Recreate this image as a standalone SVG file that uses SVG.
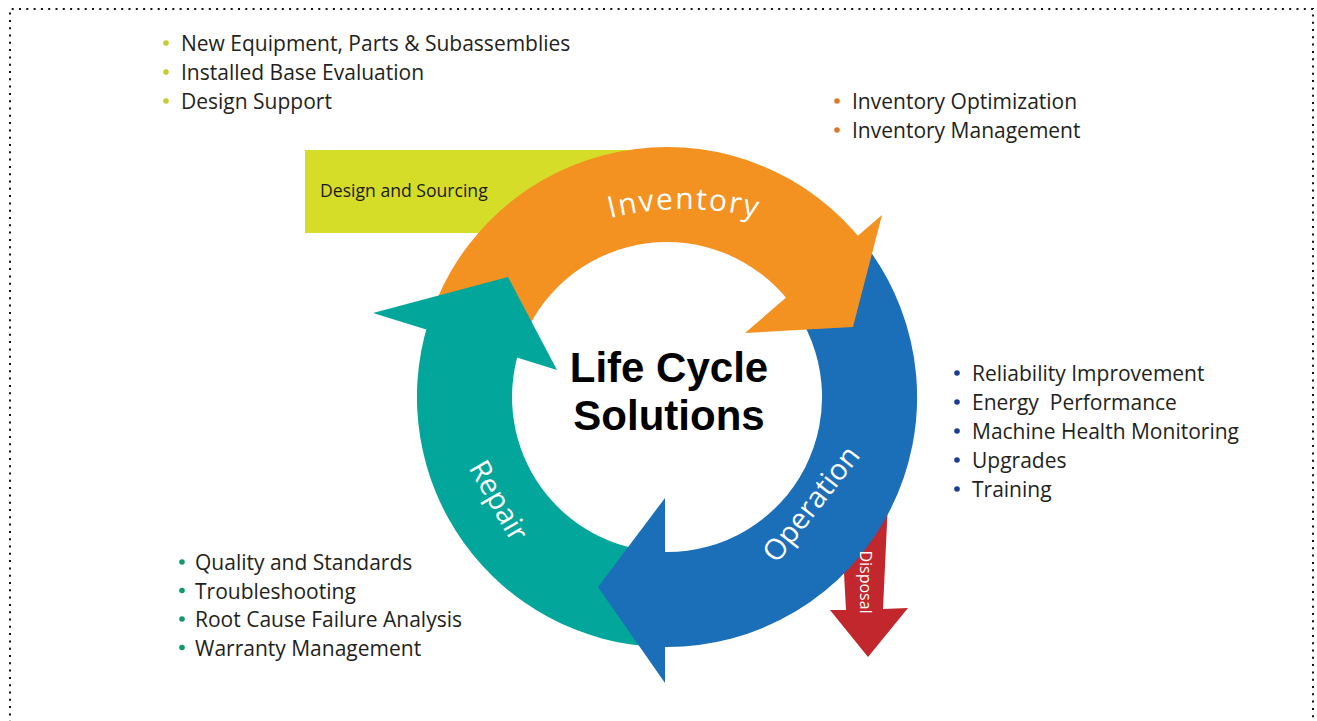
<svg xmlns="http://www.w3.org/2000/svg" width="1317" height="721" viewBox="0 0 1317 721">
<style>
.li{font-family:"Open Sans","Liberation Sans",sans-serif;font-size:21px;fill:#231f20}
.band{font-family:"Open Sans","Liberation Sans",sans-serif;fill:#ffffff}
.ctr{font-family:"Liberation Sans",Arial,sans-serif;font-size:42px;font-weight:bold;fill:#000000;text-anchor:middle}
</style>
<defs>
<path id="invPath" d="M533,249.5 A302,302 0 0 1 835,249.5"/>
</defs>
<rect width="1317" height="721" fill="#ffffff"/>
<path d="M10,730 V9 H1313 V730" fill="none" stroke="#111" stroke-width="2" stroke-dasharray="2 5.3"/>

<g id="design-sourcing">
<rect x="305" y="150" width="340" height="83" fill="#d6dd28"/>
<text x="320" y="197" font-family="'Open Sans','Liberation Sans',sans-serif" font-size="17.6" fill="#1a1a1a">Design and Sourcing</text>
</g>

<g id="connectors">
<g id="disposal">
<polygon points="839,480 889,480 883,609 908,608 868,657 830,610 846,610" fill="#c1272d"/>
</g>
</g>

<g id="ring-bands">
<path id="teal-band" d="M658.3,646.9 A250,250 0 0 1 427.9,323.9 L518.8,351.7 A155,155 0 0 0 661.6,551.9 Z" fill="#03a69b"/>
<path id="orange-band" d="M436.9,299.3 A250,250 0 0 1 864,243.1 L789.1,301.6 A155,155 0 0 0 524.3,336.4 Z" fill="#f39121"/>
<path id="blue-band" d="M866.7,246.5 A250,250 0 0 1 662.6,647 L664.3,552 A155,155 0 0 0 790.8,303.7 Z" fill="#1b6eb8"/>
</g>

<g id="repair">
<polygon points="373,313 508,277 557,370" fill="#03a69b"/>
<text class="band" font-size="29" text-anchor="middle" transform="translate(490,505.5) rotate(60)">Repair</text>
</g>
<g id="inventory">
<polygon points="745,333 882,215 853,327" fill="#f39121"/>
<text class="band" font-size="30" letter-spacing="1.8"><textPath href="#invPath" startOffset="50%" text-anchor="middle">Inventory</textPath></text>
</g>
<g id="operation">
<polygon points="665,498 665,683 598,587" fill="#1b6eb8"/>
<text class="band" font-size="29" text-anchor="middle" transform="translate(819,510) rotate(-52)">Operation</text>
</g>
<g id="disposal-label">
<text class="band" font-size="16" text-anchor="middle" transform="translate(860,582) rotate(90)">Disposal</text>
</g>

<g id="center-title">
<text class="ctr" x="669" y="382">Life Cycle</text>
<text class="ctr" x="669" y="430">Solutions</text>
</g>

<g id="list-design">
<circle cx="166" cy="43" r="2.8" fill="#c6cc2f"/>
<circle cx="166" cy="72" r="2.8" fill="#c6cc2f"/>
<circle cx="166" cy="101" r="2.8" fill="#c6cc2f"/>
<text class="li" x="181" y="51">New Equipment, Parts &amp; Subassemblies</text>
<text class="li" x="181" y="80">Installed Base Evaluation</text>
<text class="li" x="181" y="109">Design Support</text>
</g>

<g id="list-inventory">
<circle cx="837" cy="101" r="2.8" fill="#d9792b"/>
<circle cx="837" cy="130" r="2.8" fill="#d9792b"/>
<text class="li" x="852" y="109">Inventory Optimization</text>
<text class="li" x="852" y="138">Inventory Management</text>
</g>

<g id="list-operation">
<circle cx="957" cy="373" r="2.8" fill="#1d3d94"/>
<circle cx="957" cy="402" r="2.8" fill="#1d3d94"/>
<circle cx="957" cy="431" r="2.8" fill="#1d3d94"/>
<circle cx="957" cy="460" r="2.8" fill="#1d3d94"/>
<circle cx="957" cy="489" r="2.8" fill="#1d3d94"/>
<text class="li" x="972" y="381">Reliability Improvement</text>
<text class="li" x="972" y="410" xml:space="preserve">Energy  Performance</text>
<text class="li" x="972" y="439">Machine Health Monitoring</text>
<text class="li" x="972" y="468">Upgrades</text>
<text class="li" x="972" y="497">Training</text>
</g>

<g id="list-repair">
<circle cx="182" cy="562" r="2.8" fill="#12996b"/>
<circle cx="182" cy="590.5" r="2.8" fill="#12996b"/>
<circle cx="182" cy="619" r="2.8" fill="#12996b"/>
<circle cx="182" cy="647.5" r="2.8" fill="#12996b"/>
<text class="li" x="195" y="570">Quality and Standards</text>
<text class="li" x="195" y="598.5">Troubleshooting</text>
<text class="li" x="195" y="627">Root Cause Failure Analysis</text>
<text class="li" x="195" y="655.5">Warranty Management</text>
</g>
</svg>
